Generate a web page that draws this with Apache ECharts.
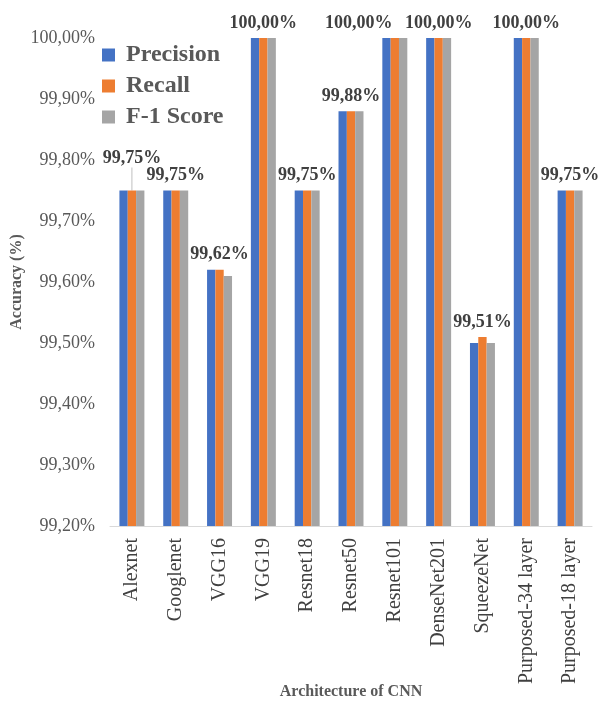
<!DOCTYPE html>
<html>
<head>
<meta charset="utf-8">
<script src="https://cdn.jsdelivr.net/npm/echarts@6/dist/echarts.min.js"></script>
<style>
  html, body { margin: 0; padding: 0; background: #fff; }
  #chart { width: 599px; height: 705px; }
</style>
</head>
<body>
<div id="chart"></div>
<script>
// Accuracy metrics per CNN architecture
const categories = ['Alexnet', 'Googlenet', 'VGG16', 'VGG19', 'Resnet18', 'Resnet50',
  'Resnet101', 'DenseNet201', 'SqueezeNet', 'Purposed-34 layer', 'Purposed-18 layer'];
const precision = [99.75, 99.75, 99.62, 100.00, 99.75, 99.88, 100.00, 100.00, 99.50, 100.00, 99.75];
const recall    = [99.75, 99.75, 99.62, 100.00, 99.75, 99.88, 100.00, 100.00, 99.51, 100.00, 99.75];
const f1Score   = [99.75, 99.75, 99.61, 100.00, 99.75, 99.88, 100.00, 100.00, 99.50, 100.00, 99.75];
const yTicks = { min: 99.2, max: 100, step: 0.1 };

const fmt = v => v.toFixed(2).replace('.', ',') + '%';
const serif = 'Liberation Serif';

// value labels sit on the middle (Recall) bar; a couple are nudged to avoid crowding
const labelShift = { 0: { dy: -17 }, 6: { dx: -36 } };

const chart = echarts.init(document.getElementById('chart'));
chart.setOption({
  animation: false,
  backgroundColor: '#ffffff',
  textStyle: { fontFamily: serif },
  grid: { left: 110, right: 7, top: 38, bottom: 179, containLabel: false, outerBoundsMode: 'none' },
  legend: {
    orient: 'vertical',
    left: 102, top: 43, padding: 0,
    itemWidth: 13, itemHeight: 13, itemGap: 7,
    icon: 'rect',
    textStyle: { fontFamily: serif, fontSize: 24, fontWeight: 'bold', color: '#595959', padding: [0, 0, 0, 6] },
    data: ['Precision', 'Recall', 'F-1 Score']
  },
  xAxis: {
    type: 'category',
    data: categories,
    name: 'Architecture of CNN',
    nameLocation: 'middle',
    nameGap: 158,
    nameMoveOverlap: false,
    nameTextStyle: { fontFamily: serif, fontSize: 16, fontWeight: 'bold', color: '#595959' },
    axisLine: { lineStyle: { color: '#d9d9d9', width: 1 } },
    axisTick: { show: false },
    axisLabel: { rotate: 90, fontFamily: serif, fontSize: 20, color: '#404040', margin: 12 }
  },
  yAxis: {
    type: 'value',
    min: yTicks.min, max: yTicks.max, interval: yTicks.step,
    name: 'Accuracy (%)',
    nameLocation: 'middle',
    nameGap: 85,
    nameMoveOverlap: false,
    nameTextStyle: { fontFamily: serif, fontSize: 16, fontWeight: 'bold', color: '#595959' },
    axisLine: { show: false },
    axisTick: { show: false },
    splitLine: { show: false },
    axisLabel: { fontFamily: serif, fontSize: 18, color: '#595959', margin: 15, formatter: fmt }
  },
  series: [
    {
      name: 'Precision', type: 'bar', data: precision,
      barGap: '0%', barCategoryGap: '43%',
      itemStyle: { color: '#4472C4' }
    },
    {
      name: 'Recall', type: 'bar',
      data: recall.map((v, i) => (i === 0 ? { value: v, labelLine: { show: true } } : v)),
      barGap: '0%', barCategoryGap: '43%',
      itemStyle: { color: '#ED7D31' },
      label: {
        show: true, position: 'top', distance: 6,
        fontFamily: serif, fontSize: 18, fontWeight: 'bold', color: '#404040',
        formatter: p => fmt(p.value)
      },
      labelLayout: p => labelShift[p.dataIndex] || {},
      labelLine: { show: false, lineStyle: { color: '#bfbfbf', width: 1 } }
    },
    {
      name: 'F-1 Score', type: 'bar', data: f1Score,
      barGap: '0%', barCategoryGap: '43%',
      itemStyle: { color: '#A5A5A5' }
    }
  ]
});
</script>
</body>
</html>
